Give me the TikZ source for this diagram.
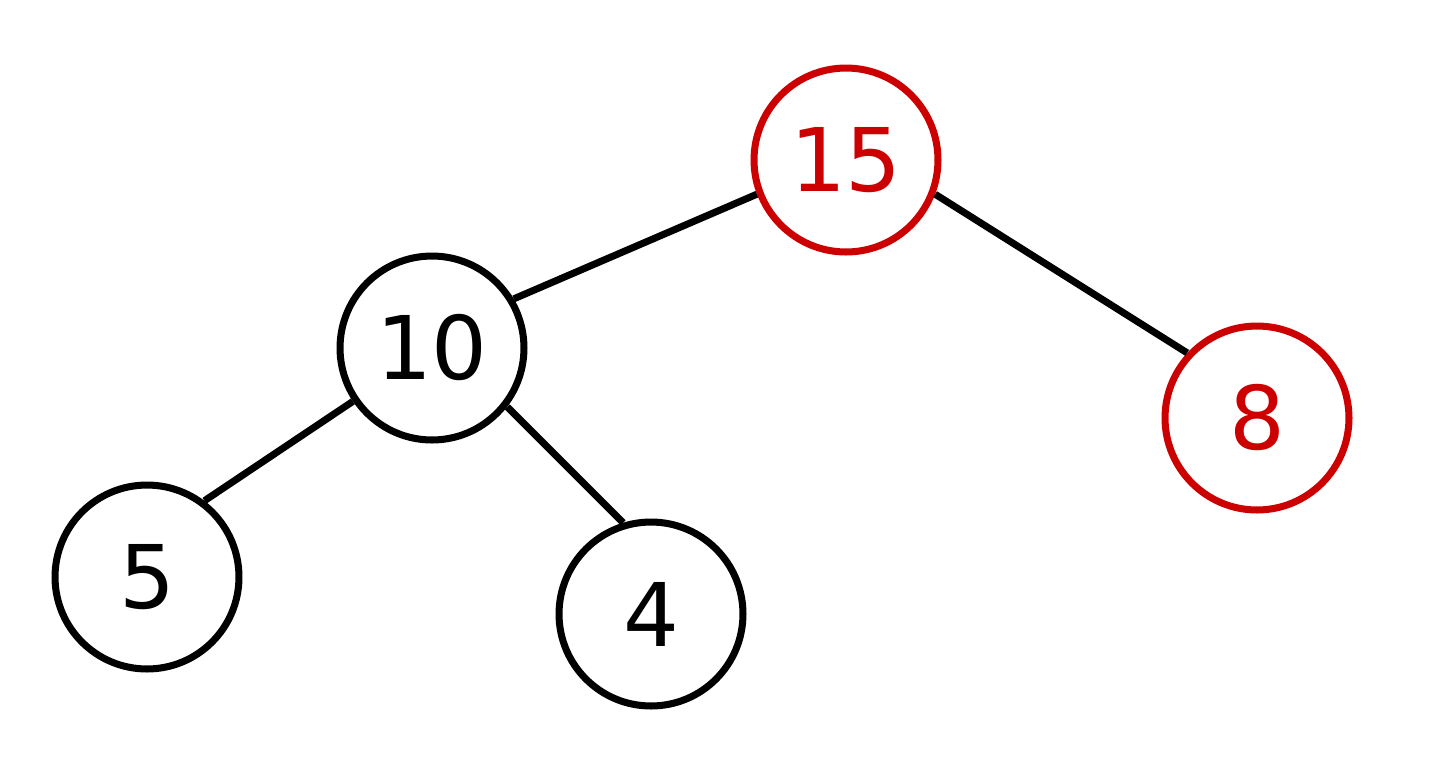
\documentclass[tikz,border=0pt]{standalone}
\usepackage{fontspec}
\setmainfont{DejaVu Sans}
\definecolor{hred}{RGB}{204,0,0}
\begin{document}
\begin{tikzpicture}[x=0.02cm,y=-0.02cm,
  tnode/.style={circle,draw,line width=4pt,minimum size=3.68cm,inner sep=0pt,
    font=\fontsize{50}{60}\selectfont},
  rednode/.style={tnode,draw=hred,text=hred},
  edge/.style={line width=4pt}]
\useasboundingbox (0,0) rectangle (1440,762);
\node[rednode] (n15) at (846,160) {15};
\node[tnode] (n10) at (432,348) {10};
\node[rednode] (n8) at (1257,418) {8};
\node[tnode] (n5) at (147,577) {5};
\node[tnode] (n4) at (651,614) {4};
\draw[edge] (n15.201) -- (n10.31);
\draw[edge] (n15.-21) -- (n8.137);
\draw[edge] (n10.214) -- (n5.53);
\draw[edge] (n10.-38) -- (n4.107);
\end{tikzpicture}
\end{document}
